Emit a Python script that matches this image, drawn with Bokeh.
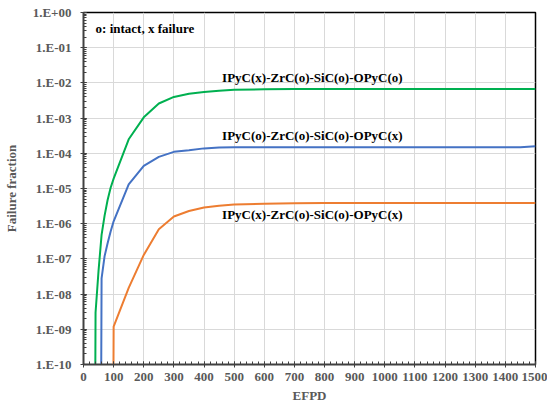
from bokeh.plotting import figure
from bokeh.models import FixedTicker, CustomJSTickFormatter, Label
from bokeh.embed import file_html
from bokeh.resources import INLINE

# ---- data ----
green_efpd = [30, 40, 50, 60, 70, 80, 90, 100, 150, 200, 250, 300, 350, 400, 450, 500,
              600, 700, 800, 900, 1000, 1100, 1200, 1300, 1400, 1450, 1500]
green_ff = [1e-30, 3e-9, 4.7e-8, 4.8e-7, 1.7e-6, 4.7e-6, 1.05e-5, 1.9e-5, 2.5e-4, 1.05e-3, 2.6e-3,
            4.0e-3, 4.9e-3, 5.5e-3, 6.0e-3, 6.4e-3, 6.6e-3, 6.7e-3, 6.7e-3, 6.7e-3, 6.7e-3,
            6.7e-3, 6.7e-3, 6.7e-3, 6.7e-3, 6.7e-3, 6.7e-3]

blue_efpd = [50, 60, 70, 80, 90, 100, 150, 200, 250, 300, 350, 400, 450, 500,
             600, 700, 800, 900, 1000, 1100, 1200, 1300, 1400, 1450, 1500]
blue_ff = [1e-30, 2.8e-8, 1.2e-7, 2.8e-7, 6.0e-7, 1.17e-6, 1.3e-5, 4.4e-5, 7.9e-5, 1.1e-4,
           1.23e-4, 1.38e-4, 1.45e-4, 1.48e-4, 1.48e-4, 1.48e-4, 1.48e-4, 1.48e-4, 1.48e-4,
           1.48e-4, 1.48e-4, 1.48e-4, 1.48e-4, 1.48e-4, 1.58e-4]

orange_efpd = [90, 100, 150, 200, 250, 300, 350, 400, 450, 500,
               600, 700, 800, 900, 1000, 1100, 1200, 1300, 1400, 1450, 1500]
orange_ff = [1e-30, 1.2e-9, 1.5e-8, 1.3e-7, 7e-7, 1.6e-6, 2.3e-6, 2.9e-6, 3.25e-6, 3.5e-6,
             3.7e-6, 3.8e-6, 3.9e-6, 3.9e-6, 3.9e-6, 3.9e-6, 3.9e-6, 3.9e-6, 3.9e-6, 3.9e-6, 3.9e-6]

series_names = ["IPyC(x)-ZrC(o)-SiC(o)-OPyC(o)",
                "IPyC(o)-ZrC(o)-SiC(o)-OPyC(x)",
                "IPyC(x)-ZrC(o)-SiC(o)-OPyC(x)"]
note_text = "o: intact, x failure"

x_ticks = list(range(0, 1501, 100))
x_minor = list(range(0, 1501, 20))
y_ticks = [1e-10, 1e-9, 1e-8, 1e-7, 1e-6, 1e-5, 1e-4, 1e-3, 1e-2, 1e-1, 1e0]
y_tick_labels = ["1.E-10", "1.E-09", "1.E-08", "1.E-07", "1.E-06", "1.E-05",
                 "1.E-04", "1.E-03", "1.E-02", "1.E-01", "1.E+00"]

# ---- figure ----
FONT = "Liberation Serif"
GRAY = "#595959"

p = figure(width=547, height=406, x_range=(0, 1500), y_range=(1e-10, 1),
           y_axis_type="log", output_backend="svg", toolbar_location=None,
           min_border_left=81, min_border_right=12, min_border_top=12, min_border_bottom=42,
           background_fill_color="white", border_fill_color="white")
p.outline_line_color = "black"
p.outline_line_width = 1.5

y_minor = [m * d for d in y_ticks[:-1] for m in range(1, 11)]
yt = FixedTicker(ticks=y_ticks, minor_ticks=y_minor)
xt = FixedTicker(ticks=x_ticks, minor_ticks=x_minor)
p.yaxis.ticker = yt
p.ygrid.ticker = yt
p.xaxis.ticker = xt
p.xgrid.ticker = xt

p.yaxis.formatter = CustomJSTickFormatter(args=dict(tvals=y_ticks, tlabels=y_tick_labels), code="""
let k = 0, best = 1e9;
for (let j = 0; j < tvals.length; j++) {
  const d = Math.abs(Math.log10(tvals[j]) - Math.log10(tick));
  if (d < best) { best = d; k = j; }
}
return tlabels[k];
""")

for g in (p.xgrid, p.ygrid):
    g.grid_line_color = "#D9D9D9"
    g.grid_line_width = 1

for ax in (p.xaxis, p.yaxis):
    ax.axis_line_color = "#404040"
    ax.axis_line_width = 1.5
    ax.major_tick_line_color = "#404040"
    ax.minor_tick_line_color = "#404040"
    ax.major_tick_in = 3
    ax.major_tick_out = 3
    ax.minor_tick_in = 3
    ax.minor_tick_out = 0
    ax.major_label_text_font = FONT
    ax.major_label_text_font_style = "bold"
    ax.major_label_text_font_size = "13px"
    ax.major_label_text_color = GRAY
    ax.axis_label_text_font = FONT
    ax.axis_label_text_font_style = "bold"
    ax.axis_label_text_font_size = "13px"
    ax.axis_label_text_color = GRAY

p.xaxis.axis_label = "EFPD"
p.yaxis.axis_label = "Failure fraction"
p.xaxis.major_label_standoff = 5
p.xaxis.axis_label_standoff = 4
p.yaxis.major_label_standoff = 9
p.yaxis.axis_label_standoff = 11

p.line(green_efpd, green_ff, line_color="#00B050", line_width=2)
p.line(blue_efpd, blue_ff, line_color="#4472C4", line_width=2)
p.line(orange_efpd, orange_ff, line_color="#ED7D31", line_width=2)

label_x = 460
label_y = [1.45e-2, 3.3e-4, 1.85e-6]
for name, ly in zip(series_names, label_y):
    p.add_layout(Label(x=label_x, y=ly, text=name, text_font=FONT, text_font_style="bold",
                       text_font_size="13px", text_color="black", text_baseline="middle"))

p.add_layout(Label(x=40, y=0.36, text=note_text, text_font=FONT, text_font_style="bold",
                   text_font_size="13px", text_color="black", text_baseline="middle"))

open("out.html", "w").write(file_html(p, INLINE))
